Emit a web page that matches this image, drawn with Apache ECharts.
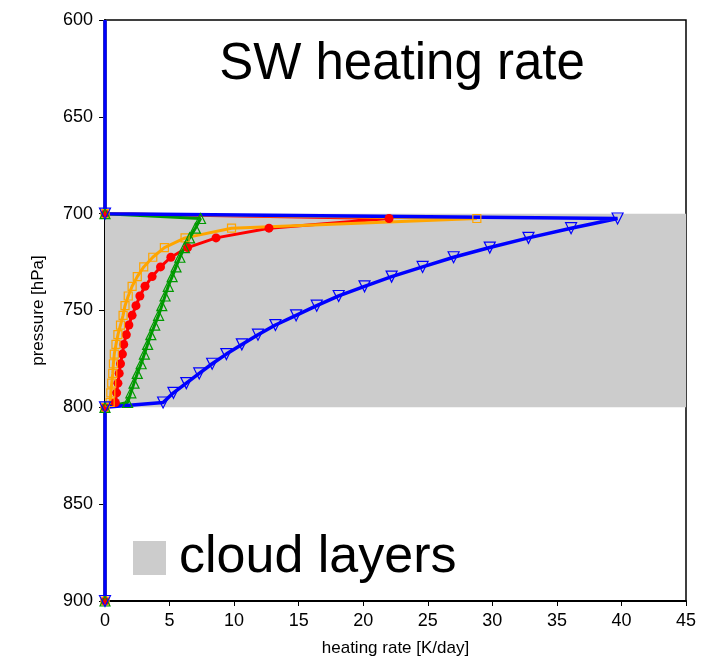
<!DOCTYPE html>
<html>
<head>
<meta charset="utf-8">
<script src="https://cdn.jsdelivr.net/npm/echarts@6/dist/echarts.min.js"></script>
<style>
  html, body { margin: 0; padding: 0; background: #fff; }
  #chart { width: 718px; height: 660px; }
</style>
</head>
<body>
<div id="chart"></div>
<script>
// pressure levels inside the cloud layer [hPa]
var cloudLevels = [702.5, 707.5, 712.5, 717.5, 722.5, 727.5, 732.5, 737.5, 742.5, 747.5,
                   752.5, 757.5, 762.5, 767.5, 772.5, 777.5, 782.5, 787.5, 792.5, 797.5];
// levels above / below the cloud where heating is zero
var topLevels = [600, 700];
var bottomLevels = [800, 900];
var cloudTop = 700, cloudBase = 800;

// heating rates [K/day] in the cloud layer
var redRate    = [22.0, 12.7, 8.6, 6.4, 5.1, 4.3, 3.65, 3.1, 2.7, 2.4,
                  2.1, 1.85, 1.65, 1.45, 1.35, 1.2, 1.1, 1.0, 0.9, 0.8];
var orangeRate = [28.8, 9.8, 6.2, 4.6, 3.7, 3.0, 2.5, 2.1, 1.8, 1.55,
                  1.4, 1.2, 1.0, 0.85, 0.72, 0.65, 0.6, 0.52, 0.45, 0.4];
var greenRate  = [7.4, 7.0, 6.55, 6.15, 5.8, 5.5, 5.2, 4.9, 4.65, 4.4,
                  4.15, 3.85, 3.55, 3.3, 3.05, 2.8, 2.5, 2.25, 2.0, 1.75];
var blueRate   = [39.7, 36.1, 32.8, 29.8, 27.0, 24.6, 22.2, 20.1, 18.1, 16.4,
                  14.8, 13.2, 11.85, 10.6, 9.4, 8.3, 7.3, 6.3, 5.3, 4.5];

function profile(rates) {
  var d = [];
  topLevels.forEach(function (p, i) {
    if (i === 0) d.push({ value: [0, p], symbol: 'none' });
    else d.push([0, p]);
  });
  cloudLevels.forEach(function (p, i) { d.push([rates[i], p]); });
  bottomLevels.forEach(function (p) { d.push([0, p]); });
  return d;
}

function lineSeries(name, rates, color, symbol, size, filled, rotate) {
  return {
    name: name,
    type: 'line',
    data: profile(rates),
    symbol: symbol,
    symbolSize: size,
    symbolRotate: rotate || 0,
    showAllSymbol: true,
    lineStyle: { color: color, width: 3 },
    itemStyle: filled ? { color: color } :
      { color: 'rgba(0,0,0,0)', borderColor: color, borderWidth: 1.2 },
    emphasis: { disabled: true },
    z: 3
  };
}

var chart = echarts.init(document.getElementById('chart'));
var font = '"Liberation Sans", Arial, sans-serif';

var option = {
  animation: false,
  textStyle: { fontFamily: font },
  title: {
    text: 'SW heating rate',
    left: 397, top: 34,
    textAlign: 'center',
    textStyle: { fontSize: 51, fontWeight: 'normal', color: '#000', fontFamily: font }
  },
  legend: {
    left: 128, top: 527,
    itemWidth: 33, itemHeight: 34,
    data: [{ name: 'cloud layers', icon: 'rect' }],
    textStyle: { fontSize: 52, color: '#000', fontFamily: font, padding: [0, 0, 0, 8] },
    selectedMode: false
  },
  grid: {
    left: 105, right: 32, top: 20, bottom: 59,
    outerBoundsMode: 'none',
    show: true, borderColor: '#000', borderWidth: 1.5, backgroundColor: 'transparent'
  },
  xAxis: {
    type: 'value',
    min: 0, max: 45, interval: 5,
    name: 'heating rate [K/day]',
    nameLocation: 'middle', nameGap: 39,
    nameTextStyle: { fontSize: 17, color: '#000' },
    axisLine: { lineStyle: { color: '#000', width: 2 } },
    axisTick: { lineStyle: { color: '#000' }, length: 5 },
    axisLabel: { fontSize: 18, color: '#000', margin: 11 },
    splitLine: { show: false }
  },
  yAxis: {
    type: 'value',
    inverse: true,
    min: 600, max: 900, interval: 50,
    name: 'pressure [hPa]',
    nameLocation: 'middle', nameGap: 58,
    nameTextStyle: { fontSize: 17, color: '#000' },
    axisLine: { lineStyle: { color: '#000', width: 2 } },
    axisTick: { lineStyle: { color: '#000' }, length: 6 },
    axisLabel: { fontSize: 18, color: '#000', margin: 12 },
    splitLine: { show: false }
  },
  series: [
    {
      name: 'cloud layers',
      type: 'line',
      data: [],
      itemStyle: { color: '#cccccc' },
      lineStyle: { color: '#cccccc' },
      markArea: {
        silent: true,
        itemStyle: { color: '#cccccc' },
        data: [[{ yAxis: cloudTop }, { yAxis: cloudBase }]]
      },
      z: 1
    },
    lineSeries('red', redRate, '#ff0000', 'circle', 9, true),
    lineSeries('orange', orangeRate, '#ffa500', 'rect', 8, false),
    lineSeries('green', greenRate, '#009900', 'triangle', 10, false),
    lineSeries('blue', blueRate, '#0000ff', 'triangle', 11, false, 180)
  ]
};
option.series[4].lineStyle.width = 3.5;

chart.setOption(option);
</script>
</body>
</html>
